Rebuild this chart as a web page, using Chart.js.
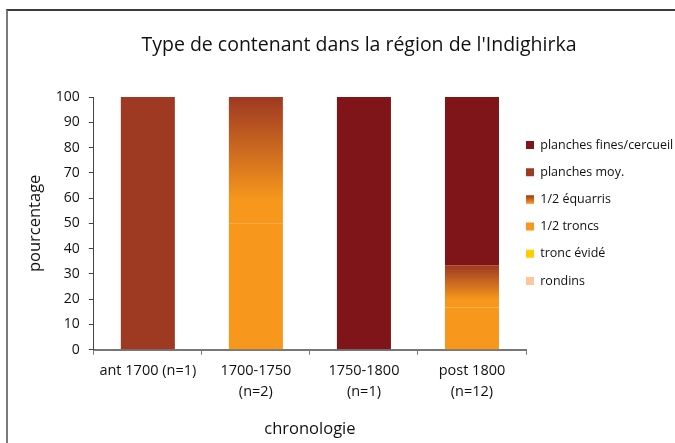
<!DOCTYPE html>
<html>
<head>
<meta charset="utf-8">
<script src="https://cdn.jsdelivr.net/npm/chart.js@4.4.1/dist/chart.umd.min.js"></script>
<style>
  body { margin: 0; background: #fff; }
  #wrap { position: relative; width: 675px; height: 443px; }
  #frame { position: absolute; left: 6px; top: 9px; width: 669px; height: 434px;
           border-top: 2px solid #3a3a3a; border-left: 2px solid #7a7a7a; box-sizing: border-box; }
  canvas { position: absolute; left: 0; top: 0; }
</style>
</head>
<body>
<div id="wrap">
  <div id="frame"></div>
  <canvas id="myChart" width="675" height="443"></canvas>
</div>
<script>
// categories (x axis)
const categories = [
    'ant 1700 (n=1)',
    ['1700-1750', '(n=2)'],
    ['1750-1800', '(n=1)'],
    ['post 1800', '(n=12)']
];

// series values in % (stacked bottom to top)
const rondins = [0, 0, 0, 0];
const troncEvide = [0, 0, 0, 0];
const demiTroncs = [0, 50, 0, 16.7];
const demiEquarris = [0, 50, 0, 16.7];
const planchesMoy = [100, 0, 0, 0];
const planchesFines = [0, 0, 100, 66.6];

const yTicks = [0, 10, 20, 30, 40, 50, 60, 70, 80, 90, 100];

const stackOrder = [rondins, troncEvide, demiTroncs, demiEquarris, planchesMoy, planchesFines];

const orange = '#F7981D';
const brown = '#9E3922';
const midColor = '#CB6A20';

const legendFont = 12.5;
const legendPad = 14.7;
const legendBox = 8;

// gradient for the 1/2 équarris segment, from orange at the base to brown at the top
function equarrisColor(context) {
    if (context.type !== 'data') return midColor;
    const chart = context.chart;
    const y = chart.scales.y;
    if (!y) return midColor;
    const i = context.dataIndex;
    let base = 0;
    for (let k = 0; k < 3; k++) base += stackOrder[k][i];
    const top = base + demiEquarris[i];
    const y0 = y.getPixelForValue(base);
    const y1 = y.getPixelForValue(top);
    if (!Number.isFinite(y0) || !Number.isFinite(y1) || y0 === y1) return midColor;
    const g = chart.ctx.createLinearGradient(0, y0, 0, y1);
    g.addColorStop(0, orange);
    g.addColorStop(0.18, orange);
    g.addColorStop(1, brown);
    return g;
}

// put the legend right against the plot, and give 1/2 équarris a gradient square
const legendTweak = {
    id: 'legendTweak',
    afterLayout(chart) {
        const lg = chart.legend;
        if (!lg) return;
        const w = lg.width, h = lg.height;
        lg.left = chart.chartArea.right - legendPad;
        lg.right = lg.left + w;
        lg.top = 145 - legendFont / 2 - legendPad;
        lg.bottom = lg.top + h;
    },
    afterDraw(chart) {
        const lg = chart.legend;
        if (!lg || !lg.legendItems) return;
        const idx = lg.legendItems.findIndex(it => it.text === '1/2 équarris');
        if (idx < 0) return;
        const x = lg.left + legendPad;
        const top = lg.top + legendPad + idx * (legendFont + legendPad) + (legendFont - legendBox) / 2;
        const ctx = chart.ctx;
        const g = ctx.createLinearGradient(0, top + legendBox, 0, top);
        g.addColorStop(0, orange);
        g.addColorStop(1, brown);
        ctx.save();
        ctx.fillStyle = g;
        ctx.fillRect(x, top, legendBox, legendBox);
        ctx.restore();
    }
};

const ctx = document.getElementById('myChart').getContext('2d');
new Chart(ctx, {
    type: 'bar',
    data: {
        labels: categories,
        datasets: [
            { label: 'rondins', data: rondins, backgroundColor: '#FCC89B' },
            { label: 'tronc évidé', data: troncEvide, backgroundColor: '#FFCC00' },
            { label: '1/2 troncs', data: demiTroncs, backgroundColor: orange },
            { label: '1/2 équarris', data: demiEquarris, backgroundColor: equarrisColor },
            { label: 'planches moy.', data: planchesMoy, backgroundColor: brown },
            { label: 'planches fines/cercueil', data: planchesFines, backgroundColor: '#7F1518' }
        ]
    },
    options: {
        responsive: false,
        animation: false,
        devicePixelRatio: 1,
        datasets: {
            bar: { barPercentage: 0.5, categoryPercentage: 1, borderWidth: 0 }
        },
        layout: { padding: { left: 25, right: -18, top: 34, bottom: 4 } },
        plugins: {
            title: {
                display: true,
                text: "Type de contenant dans la région de l'Indighirka",
                color: '#111',
                font: { family: 'Open Sans', size: 19.5, weight: 'normal' },
                padding: { top: 0, bottom: 39.6 }
            },
            legend: {
                position: 'right',
                reverse: true,
                align: 'start',
                labels: {
                    boxWidth: legendBox,
                    boxHeight: legendBox,
                    padding: legendPad,
                    color: '#111',
                    font: { family: 'Open Sans', size: legendFont }
                }
            },
            tooltip: { enabled: false }
        },
        scales: {
            x: {
                stacked: true,
                grid: { drawOnChartArea: false, offset: true, tickLength: 5, color: '#777' },
                border: { color: '#777', width: 2 },
                ticks: {
                    color: '#111', maxRotation: 0, padding: 5,
                    font: { family: 'Open Sans', size: 14.5, lineHeight: 1.5 }
                },
                title: {
                    display: true, text: 'chronologie', color: '#111',
                    font: { family: 'Open Sans', size: 16.5 }, padding: { top: 11, bottom: 0 }
                }
            },
            y: {
                stacked: true,
                min: 0,
                max: 100,
                afterBuildTicks: axis => { axis.ticks = yTicks.map(v => ({ value: v })); },
                grid: { drawOnChartArea: false, tickLength: 5, color: '#444' },
                border: { color: '#444', width: 1 },
                ticks: { color: '#111', font: { family: 'Open Sans', size: 14 }, padding: 9 },
                title: {
                    display: true, text: 'pourcentage', color: '#111',
                    font: { family: 'Open Sans', size: 16.5 }, padding: { top: 0, bottom: 2 }
                }
            }
        }
    },
    plugins: [legendTweak]
});
</script>
</body>
</html>
